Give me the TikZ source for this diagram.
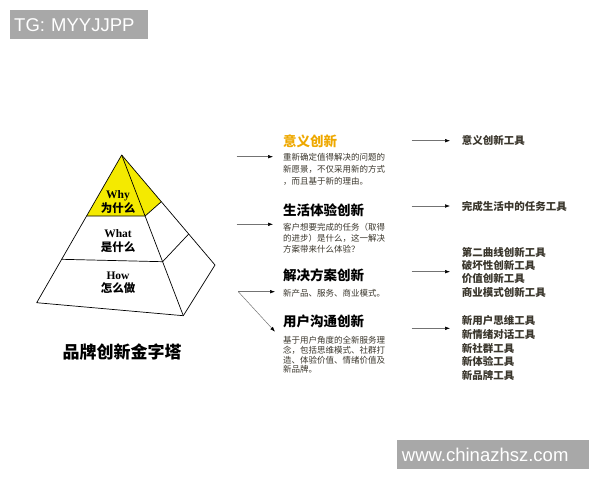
\documentclass[tikz,border=0pt]{standalone}
\usepackage{fontspec}
\newfontfamily\cjk{Noto Sans CJK SC}
\newfontfamily\markfont{Liberation Sans}
\newfontfamily\layerfont{Liberation Serif}
\usetikzlibrary{arrows.meta}
\definecolor{whyyellow}{RGB}{244,234,0}
\definecolor{headgold}{RGB}{238,168,0}
\definecolor{bodygray}{RGB}{58,54,44}
\definecolor{markgray}{RGB}{168,168,168}
\tikzset{
    edge/.style={draw=black, line width=0.7pt, line join=round},
    layer/.style={align=center, inner sep=0pt, font=\layerfont\bfseries\fontsize{11.5}{13.5}\selectfont},
    heading/.style={anchor=west, inner sep=0pt, font=\cjk\bfseries\fontsize{13.5}{15}\selectfont},
    body/.style={anchor=north west, align=left, inner sep=0pt, text=bodygray},
    tool/.style={anchor=north west, align=left, inner sep=0pt, text=bodygray},
    pointer/.style={draw=black!55, line width=0.5pt, -{Latex[length=5pt,width=3.6pt,color=black]}},
    stamp/.style={anchor=north west, fill=markgray, text=white, inner ysep=0pt, minimum height=29pt, align=left, font=\markfont\fontsize{18.5}{18.5}\selectfont}
}

\begin{document}
\begin{tikzpicture}[x=1pt, y=-1pt]
    \useasboundingbox (0,0) rectangle (600,480);

    \coordinate (apex) at (121.7,155);
    \coordinate (fl) at (36.7,302.7);
    \coordinate (fr) at (183.3,315.7);
    \coordinate (br) at (215,265);
    \coordinate (yl) at (86.6,216);
    \coordinate (yf) at (145.1,216);
    \coordinate (yr) at (161.3,201.7);
    \coordinate (ml) at (61.7,259.3);
    \coordinate (mf) at (162.6,261.7);
    \coordinate (mr) at (188.7,234);

    \fill[whyyellow] (apex) -- (yl) -- (yf) -- (yr) -- cycle;
    \draw[edge] (apex) -- (fl) -- (fr) -- (br) -- cycle;
    \draw[edge] (apex) -- (fr);
    \draw[edge] (yl) -- (yf) -- (yr);
    \draw[edge] (ml) -- (mf) -- (mr);

    \node[layer] (why) at (118,202) {Why\\{\cjk 为什么}};
    \node[layer] (what) at (118,241) {What\\{\cjk 是什么}};
    \node[layer] (how) at (118,283) {How\\{\cjk 怎么做}};
    \node[inner sep=0pt, font=\cjk\bfseries\fontsize{17}{19}\selectfont] (title) at (122,352) {品牌创新金字塔};

    \node[heading, text=headgold] (h1) at (283,141.7) {意义创新};
    \node[heading] (h2) at (283,210) {生活体验创新};
    \node[heading] (h3) at (283,275) {解决方案创新};
    \node[heading] (h4) at (283,321.7) {用户沟通创新};

    \node[body, font=\cjk\fontsize{8.5}{12}\selectfont] (b1) at (283,152.9)
        {重新确定值得解决的问题的\\新愿景，不仅采用新的方式\\，而且基于新的理由。};
    \node[body, font=\cjk\fontsize{8.5}{10.9}\selectfont] (b2) at (283,223.5)
        {客户想要完成的任务（取得\\的进步）是什么，这一解决\\方案带来什么体验？};
    \node[body, font=\cjk\fontsize{8.5}{10}\selectfont] (b3) at (283,289.5)
        {新产品、服务、商业模式。};
    \node[body, font=\cjk\fontsize{8.5}{9.7}\selectfont] (b4) at (283,336.2)
        {基于用户角度的全新服务理\\念，包括思维模式、社群打\\造、体验价值、情绪价值及\\新品牌。};

    \node[tool, anchor=west, font=\cjk\bfseries\fontsize{10.5}{13.5}\selectfont] (t1) at (461.7,140.7) {意义创新工具};
    \node[tool, anchor=west, font=\cjk\bfseries\fontsize{10.5}{13.5}\selectfont] (t2) at (461.7,206) {完成生活中的任务工具};
    \node[tool, font=\cjk\bfseries\fontsize{10.5}{13.3}\selectfont] (t3) at (461.7,247)
        {第二曲线创新工具\\破坏性创新工具\\价值创新工具\\商业模式创新工具};
    \node[tool, font=\cjk\bfseries\fontsize{10.5}{13.75}\selectfont] (t4) at (461.7,315.3)
        {新用户思维工具\\新情绪对话工具\\新社群工具\\新体验工具\\新品牌工具};

    \coordinate (p1) at (236.7,156.7);
    \coordinate (p2) at (236.7,224.3);
    \coordinate (p3) at (238.3,291.7);
    \coordinate (p4) at (275,331.7);
    \draw[pointer, shorten >=10pt] (p1) -- (p1 -| b1.west);
    \draw[pointer, shorten >=10pt] (p2) -- (p2 -| b2.west);
    \draw[pointer, shorten >=8pt] (p3) -- (p3 -| b3.west);
    \draw[pointer] (p3) -- (p4);

    \coordinate (q1) at (411.7,140.7);
    \coordinate (q2) at (411.7,206);
    \coordinate (q3) at (411.7,271.7);
    \coordinate (q4) at (411.7,328.3);
    \draw[pointer, shorten >=11.7pt] (q1) -- (t1.west);
    \draw[pointer, shorten >=11.7pt] (q2) -- (t2.west);
    \draw[pointer, shorten >=11.7pt] (q3) -- (q3 -| t3.west);
    \draw[pointer, shorten >=11.7pt] (q4) -- (q4 -| t4.west);

    \node[stamp, text width=130pt, inner xsep=4pt] (tg) at (10,10) {TG: MYYJJPP};
    \node[stamp, text width=182.3pt, inner xsep=5pt] (site) at (396.7,440) {www.chinazhsz.com};
\end{tikzpicture}
\end{document}
